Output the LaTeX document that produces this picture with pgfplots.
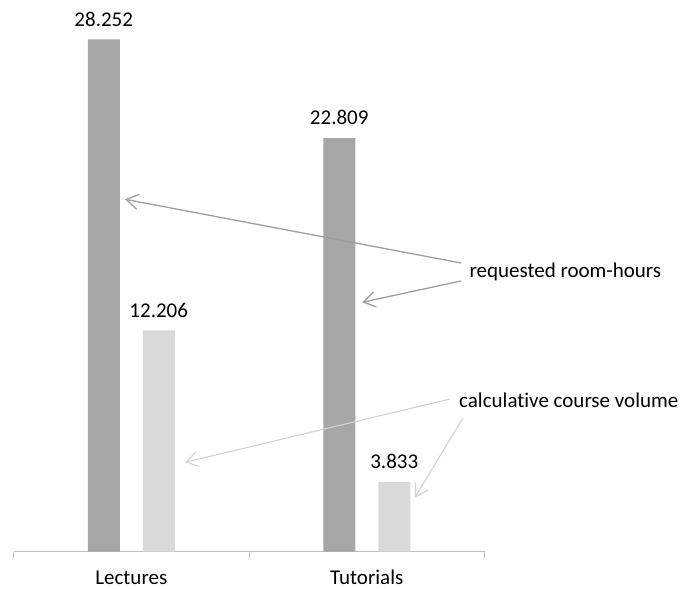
\documentclass[border=0pt]{standalone}
\usepackage{pgfplots}
\pgfplotsset{compat=1.18}
\usepackage{fontspec}
\setmainfont[Ligatures=NoCommon]{Carlito}
\usetikzlibrary{arrows.meta}
\definecolor{darkbar}{RGB}{166,166,166}
\definecolor{lightbar}{RGB}{217,217,217}
\definecolor{axisgray}{RGB}{191,191,191}
\definecolor{darkarrow}{RGB}{158,158,158}
\definecolor{lightarrow}{RGB}{210,210,210}
\begin{document}
\begin{tikzpicture}[x=1pt,y=1pt]
\useasboundingbox (0,0) rectangle (683,589);
\begin{axis}[
  at={(13.5pt,37.3pt)}, anchor=south west,
  scale only axis, width=471pt, height=543.9pt,
  xmin=-0.5, xmax=1.5, ymin=0, ymax=30,
  axis x line*=bottom, axis y line=none,
  x axis line style={axisgray, line width=1pt},
  xtick={0,1}, xticklabels={Lectures,Tutorials},
  major tick length=0pt,
  minor xtick={-0.5,0.5,1.5}, minor tick length=6pt, tick align=outside,
  every minor tick/.append style={axisgray, line width=1pt},
  xticklabel style={font=\fontsize{21}{25}\selectfont, anchor=base, yshift=-33pt, inner sep=0pt},
  ybar=23pt, bar width=32pt,
  nodes near coords,
  every node near coord/.append style={font=\fontsize{21}{25}\selectfont, anchor=base, yshift=13.3pt, inner sep=0pt, text=black},
  /pgf/number format/.cd, assume math mode=true, fixed, precision=3, fixed zerofill, 1000 sep={},
]
\addplot[fill=darkbar, draw=none] coordinates {(0,28.252) (1,22.809)};
\addplot[fill=lightbar, draw=none] coordinates {(0,12.206) (1,3.833)};
\end{axis}
\draw[darkarrow, line width=1.3pt, -{Straight Barb[length=12pt,width=15pt]}] (461,326) -- (125,389.7);
\draw[darkarrow, line width=1.3pt, -{Straight Barb[length=12pt,width=15pt]}] (461,308) -- (362,286.7);
\draw[lightarrow, line width=1.1pt, -{Straight Barb[length=12pt,width=15pt]}] (450,190) -- (185,126.7);
\draw[lightarrow, line width=1.1pt, -{Straight Barb[length=12pt,width=15pt]}] (462.7,170.7) -- (415,91.7);
\node[anchor=base west, inner sep=0pt, font=\fontsize{21}{25}\selectfont] at (469.3,311.7) {requested room-hours};
\node[anchor=base west, inner sep=0pt, font=\fontsize{21}{25}\selectfont] at (459,181.7) {calculative course volume};
\end{tikzpicture}
\end{document}
